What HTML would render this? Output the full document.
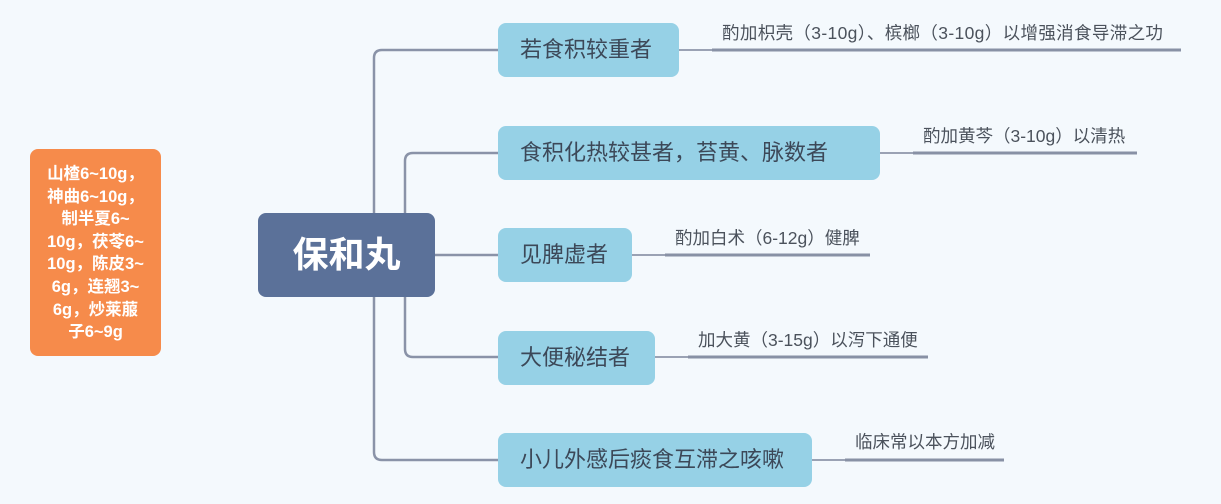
<!DOCTYPE html>
<html>
<head>
<meta charset="utf-8">
<style>
  html, body { margin: 0; padding: 0; }
  body {
    width: 1221px; height: 504px; overflow: hidden;
    background: #f4f9fd;
    position: relative;
    font-family: "Liberation Sans", "Noto Sans CJK SC", sans-serif;
  }
  svg { position: absolute; left: 0; top: 0; }
  .box { position: absolute; box-sizing: border-box; }
  .orange {
    left: 30px; top: 149px; width: 131px; height: 207px;
    background: #f68b4b; border-radius: 8px;
    color: #fff; font-weight: bold; font-size: 16.5px;
    line-height: 22.6px; text-align: center;
    padding-top: 14px; white-space: nowrap;
  }
  .root {
    left: 258px; top: 213px; width: 177px; height: 84px;
    background: #5b7199; border-radius: 8px;
    color: #fff; font-weight: bold; font-size: 36px;
    line-height: 84px; text-align: center; letter-spacing: 0px;
  }
  .node {
    background: #96d1e6; border-radius: 8px;
    color: #3c4858; font-size: 22px;
    height: 54px; line-height: 54px;
    padding-left: 22px; white-space: nowrap;
    left: 498px;
  }
  .lbl {
    position: absolute; color: #4b525c; font-size: 17.5px;
    line-height: 20px; white-space: nowrap;
  }
</style>
</head>
<body>
<svg width="1221" height="504" viewBox="0 0 1221 504">
  <g fill="none" stroke="#8a93a8" stroke-width="2.5">
    <path d="M498 50 H382 Q374 50 374 58 V452 Q374 460 382 460 H498"/>
    <path d="M498 153 H413 Q405 153 405 161 V349 Q405 357 413 357 H498"/>
    <path d="M435 255 H498"/>
  </g>
  <g fill="none" stroke="#9aa2b4" stroke-width="2">
    <path d="M679 50 H712"/>
    <path d="M880 153 H913"/>
    <path d="M632 255 H665"/>
    <path d="M655 357 H688"/>
    <path d="M812 460 H845"/>
  </g>
  <g fill="none" stroke="#8891a5" stroke-width="3">
    <path d="M712 50 H1181"/>
    <path d="M913 153 H1137"/>
    <path d="M665 255 H870"/>
    <path d="M688 357 H928"/>
    <path d="M845 460 H1004"/>
  </g>
</svg>

<div class="box orange">山楂6~10g，<br>神曲6~10g，<br>制半夏6~<br>10g，茯苓6~<br>10g，陈皮3~<br>6g，连翘3~<br>6g，炒莱菔<br>子6~9g</div>

<div class="box root">保和丸</div>

<div class="box node" style="top:23px;width:181px;">若食积较重者</div>
<div class="box node" style="top:126px;width:382px;">食积化热较甚者，苔黄、脉数者</div>
<div class="box node" style="top:228px;width:134px;">见脾虚者</div>
<div class="box node" style="top:331px;width:157px;">大便秘结者</div>
<div class="box node" style="top:433px;width:314px;">小儿外感后痰食互滞之咳嗽</div>

<div class="lbl" style="left:722px;top:23px;letter-spacing:0.35px;">酌加枳壳（3-10g）、槟榔（3-10g）以增强消食导滞之功</div>
<div class="lbl" style="left:923px;top:126px;">酌加黄芩（3-10g）以清热</div>
<div class="lbl" style="left:675px;top:228px;">酌加白术（6-12g）健脾</div>
<div class="lbl" style="left:698px;top:330px;">加大黄（3-15g）以泻下通便</div>
<div class="lbl" style="left:855px;top:432px;">临床常以本方加减</div>
</body>
</html>
